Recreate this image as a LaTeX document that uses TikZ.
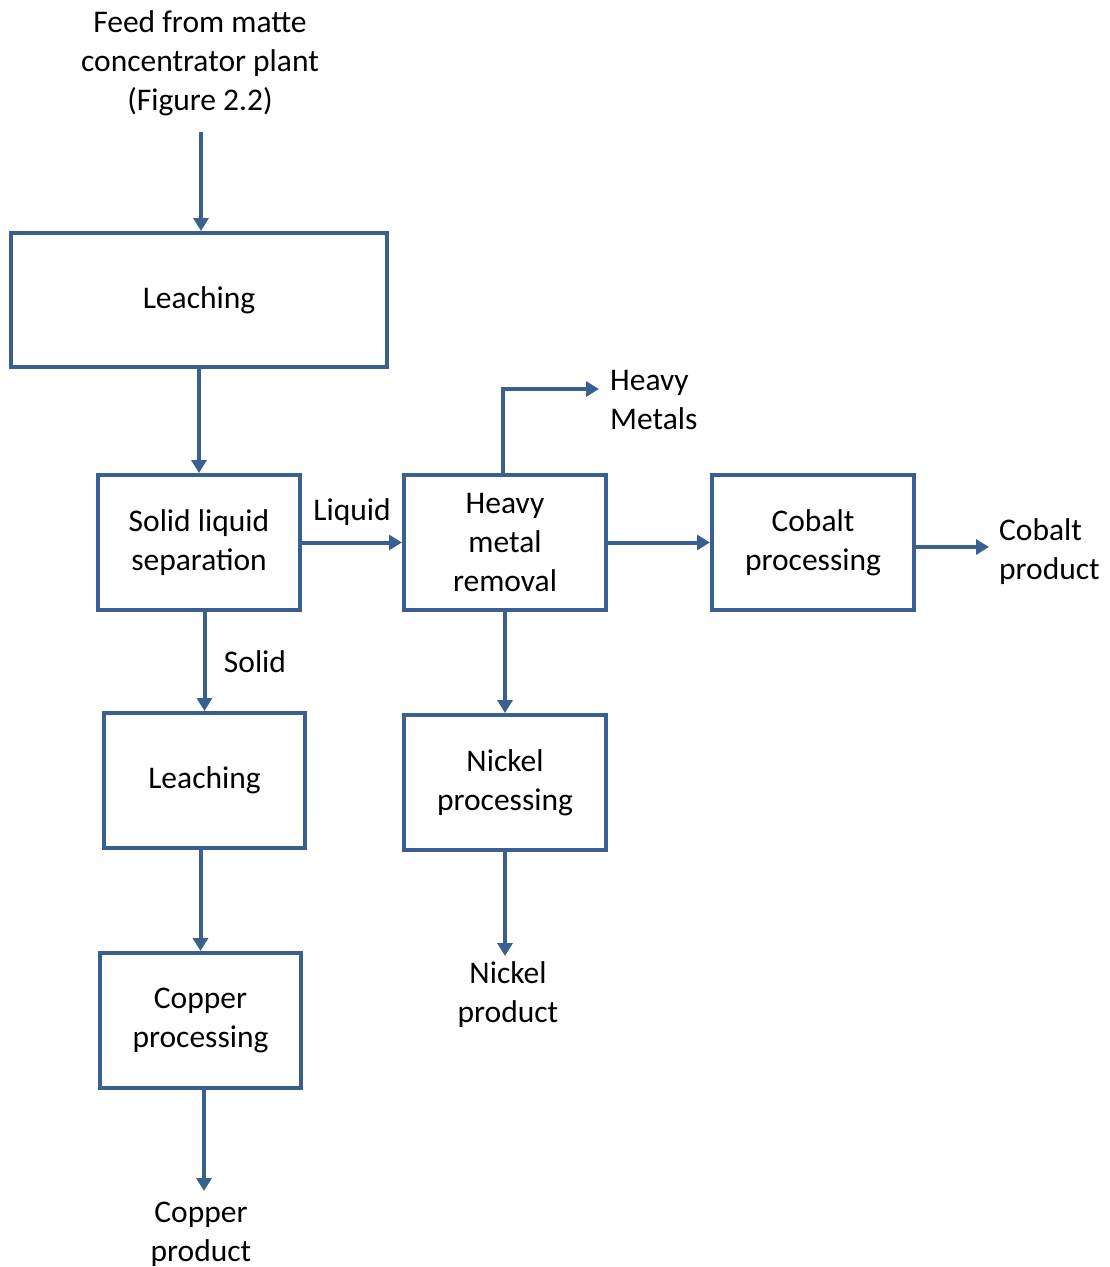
\documentclass[tikz,border=0pt]{standalone}
\usepackage{fontspec}
\setmainfont{Carlito}
\usetikzlibrary{arrows.meta}
\definecolor{flowblue}{RGB}{58,96,146}
\begin{document}
\begin{tikzpicture}[x=1pt,y=-1pt,
  every node/.style={font=\fontsize{31.5}{39}\selectfont, align=center, inner sep=0pt},
  unit/.style={draw=flowblue, line width=4pt, fill=white},
  flow/.style={draw=flowblue, line width=4pt, -{Triangle[length=13pt,width=15pt]}}]
\useasboundingbox (0,0) rectangle (1110,1267);

% process units
\node[unit, minimum width=376pt, minimum height=134pt] (leachA) at (199,300) {Leaching};
\node[unit, minimum width=202pt, minimum height=135pt] (sls) at (199,542.5) {Solid liquid\\separation};
\node[unit, minimum width=202pt, minimum height=135pt] (hmr) at (505,542.5) {Heavy\\metal\\removal};
\node[unit, minimum width=202pt, minimum height=135pt] (cobalt) at (813,542.5) {Cobalt\\processing};
\node[unit, minimum width=201pt, minimum height=135pt] (leachB) at (204.5,780.5) {Leaching};
\node[unit, minimum width=202pt, minimum height=135pt] (nickel) at (505,782.5) {Nickel\\processing};
\node[unit, minimum width=201pt, minimum height=135pt] (copper) at (200.5,1020.5) {Copper\\processing};

% stream labels
\node (feed) at (200,63) {Feed from matte\\concentrator plant\\(Figure 2.2)};
\node (liquid) at (352,512) {Liquid};
\node (solid) at (255,662) {Solid};
\node[align=left, anchor=west] (heavy) at (610,400) {Heavy\\Metals};
\node[align=left, anchor=west] (coprod) at (999,552) {Cobalt\\product};
\node (niprod) at (508,995) {Nickel\\product};
\node (cuprod) at (201,1234) {Copper\\product};

% free ends of the streams
\coordinate (feedEnd) at (201,132);
\coordinate (hmTurn) at (503,389);
\coordinate (hmEnd) at (599,389);
\coordinate (coEnd) at (989,547);
\coordinate (niEnd) at (505,956);
\coordinate (cuEnd) at (204,1191);

% streams
\draw[flow] (feedEnd) -- (feedEnd |- leachA.north);
\draw[flow] (leachA.south) -- (sls.north);
\draw[flow] (sls.east) -- (hmr.west);
\draw[flow] (hmr.east) -- (cobalt.west);
\draw[flow] (cobalt.east |- coEnd) -- (coEnd);
\draw[flow] (hmr.north -| hmTurn) -- (hmTurn) -- (hmEnd);
\draw[flow] (sls.south -| leachB.north) -- (leachB.north);
\draw[flow] (hmr.south) -- (nickel.north);
\draw[flow] (nickel.south) -- (niEnd);
\draw[flow] (leachB.south -| copper.north) -- (copper.north);
\draw[flow] (copper.south -| cuEnd) -- (cuEnd);
\end{tikzpicture}
\end{document}
